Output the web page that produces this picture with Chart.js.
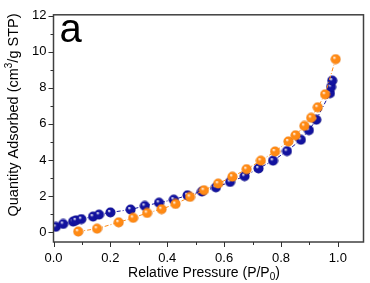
<!DOCTYPE html>
<html><head><meta charset="utf-8">
<script src="https://cdn.jsdelivr.net/npm/chart.js@4/dist/chart.umd.min.js"></script>
<style>html,body{margin:0;padding:0;background:#fff}#wrap{width:370px;height:283px;position:relative}</style>
</head><body><div id="wrap"><canvas id="c" width="370" height="283"></canvas></div>
<script>
const blueX = [0.008,0.034,0.069,0.079,0.098,0.139,0.16,0.2,0.271,0.321,0.371,0.423,0.471,0.522,0.571,0.621,0.672,0.721,0.772,0.821,0.87,0.898,0.924,0.972,0.976,0.98];
const blueY = [0.29,0.45,0.58,0.65,0.72,0.86,0.97,1.09,1.25,1.45,1.63,1.80,2.04,2.25,2.48,2.78,3.10,3.53,3.96,4.49,5.12,5.65,6.23,7.7,8.05,8.4];
const orangeX = [0.087,0.153,0.229,0.28,0.329,0.38,0.429,0.48,0.529,0.579,0.629,0.679,0.729,0.779,0.826,0.851,0.882,0.906,0.929,0.955,0.992];
const orangeY = [0.03,0.19,0.54,0.79,1.06,1.27,1.56,1.95,2.32,2.69,3.07,3.49,3.96,4.47,5.03,5.37,5.89,6.34,6.92,7.64,9.59];
const xTicks = [0,0.2,0.4,0.6,0.8,1.0];
const yTicks = [0,2,4,6,8,10,12];
const panelLabel = 'a';
// title parts: [text, 'n' normal | 'sup' superscript | 'sub' subscript]
const yTitleParts = [['Quantity Adsorbed (cm','n'],['3','sup'],['/g STP)','n']];
const xTitleParts = [['Relative Pressure (P/P','n'],['0','sub'],[')','n']];

const FONT = '"Liberation Sans", Arial, sans-serif';

function sphere(base, dark){
  const s = 11, c = document.createElement('canvas');
  c.width = s; c.height = s;
  const g = c.getContext('2d');
  const gr = g.createRadialGradient(4,3.8,0.3,5.5,5.5,5.5);
  gr.addColorStop(0,'#ffffff');
  gr.addColorStop(0.28,base);
  gr.addColorStop(0.8,base);
  gr.addColorStop(1,dark);
  g.fillStyle = gr;
  g.beginPath(); g.arc(5.5,5.5,5,0,Math.PI*2); g.fill();
  return c;
}
const bluePt = sphere('#12129f','#000060');
const orangePt = sphere('#ff8a14','#c85a00');

const toPts = (xs, ys) => xs.map((x,i)=>({x:x,y:ys[i]}));

function drawParts(ctx, parts, size, cx, baseline){
  const small = Math.round(size*0.7);
  let total = 0;
  const widths = parts.map(([t,k])=>{
    ctx.font = (k==='n'?size:small)+'px '+FONT;
    const w = ctx.measureText(t).width; total += w; return w;
  });
  let x = cx - total/2;
  parts.forEach(([t,k],i)=>{
    ctx.font = (k==='n'?size:small)+'px '+FONT;
    const dy = k==='sup' ? -size*0.38 : (k==='sub' ? size*0.22 : 0);
    ctx.fillText(t, x, baseline+dy);
    x += widths[i];
  });
}

const frameTicks = {
  id:'frameTicks',
  afterDraw(chart){
    const ctx = chart.ctx, a = chart.chartArea;
    const xs = chart.scales.x, ys = chart.scales.y;
    ctx.save();
    ctx.strokeStyle = '#404040';
    ctx.lineWidth = 1.5;
    ctx.strokeRect(a.left, a.top, a.right-a.left, a.bottom-a.top);
    ctx.lineWidth = 1;
    ctx.strokeStyle = '#303030';
    for(let i=0;i<=10;i++){
      const v = i/10, p = Math.round(xs.getPixelForValue(v))+0.5;
      const len = (i%2===0)?5:3;
      ctx.beginPath(); ctx.moveTo(p,a.bottom); ctx.lineTo(p,a.bottom+len); ctx.stroke();
    }
    for(let v=0;v<=12;v++){
      const p = Math.round(ys.getPixelForValue(v))+0.5;
      const len = (v%2===0)?5:3;
      ctx.beginPath(); ctx.moveTo(a.left,p); ctx.lineTo(a.left-len,p); ctx.stroke();
    }
    ctx.fillStyle = '#000';
    ctx.textBaseline = 'alphabetic';
    ctx.textAlign = 'left';
    ctx.font = '40px '+FONT;
    ctx.fillText(panelLabel, a.left+6, 42);
    // x title
    drawParts(ctx, xTitleParts, 14, 204, 277);
    // y title rotated
    ctx.save();
    ctx.translate(18, 115);
    ctx.rotate(-Math.PI/2);
    drawParts(ctx, yTitleParts, 14.5, 0, 0);
    ctx.restore();
    ctx.restore();
  }
};

new Chart(document.getElementById('c'), {
  type:'scatter',
  data:{datasets:[
    {label:'orange', data:toPts(orangeX,orangeY), showLine:true, order:0,
     borderColor:'#ff8a14', borderWidth:1, borderDash:[4,2,1,2],
     pointStyle:orangePt, pointRadius:5.5, pointHoverRadius:5.5},
    {label:'blue', data:toPts(blueX,blueY), showLine:true, order:1,
     borderColor:'#12129f', borderWidth:1, borderDash:[4,2,1,2],
     pointStyle:bluePt, pointRadius:5.5, pointHoverRadius:5.5}
  ]},
  options:{
    responsive:false, animation:false, devicePixelRatio:1,
    layout:{padding:{top:6, right:4, left:0, bottom:0}},
    plugins:{legend:{display:false}, tooltip:{enabled:false}},
    scales:{
      x:{type:'linear', min:0, max:1.09,
        afterBuildTicks(s){ s.ticks = xTicks.map(v=>({value:v})); },
        afterFit(s){ s.height = 41; },
        grid:{display:false, drawTicks:false}, border:{display:false},
        ticks:{color:'#000', padding:9, maxRotation:0, font:{family:FONT, size:13},
          callback:v=>v.toFixed(1)},
        title:{display:false}
      },
      y:{type:'linear', min:-0.55, max:12.05,
        afterBuildTicks(s){ s.ticks = yTicks.map(v=>({value:v})); },
        afterFit(s){ s.width = 53.5; },
        grid:{display:false, drawTicks:false}, border:{display:false},
        ticks:{color:'#000', padding:7, font:{family:FONT, size:13}},
        title:{display:false}
      }
    }
  },
  plugins:[frameTicks]
});
</script></body></html>
